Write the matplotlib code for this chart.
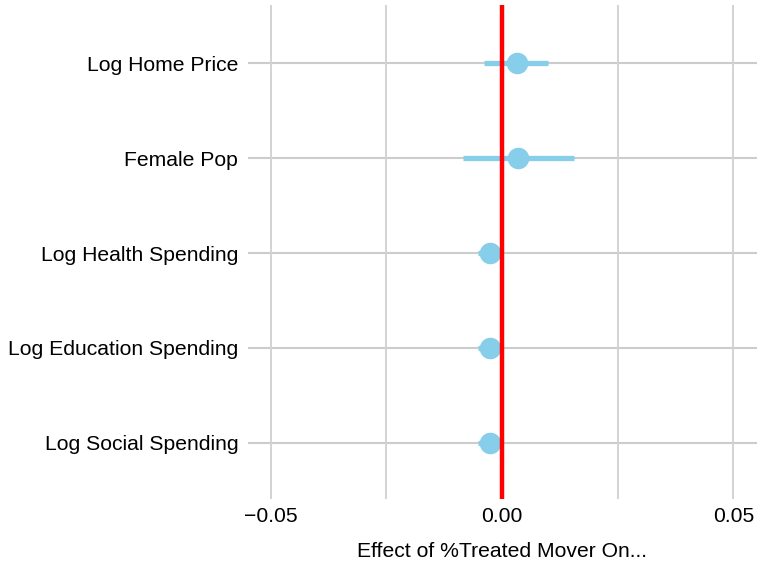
import matplotlib.pyplot as plt
import numpy as np

plt.rcParams['font.family'] = ['Liberation Sans', 'DejaVu Sans']

# coefficient estimates and confidence intervals
outcomes = ['Log Home Price', 'Female Pop', 'Log Health Spending',
            'Log Education Spending', 'Log Social Spending']
estimate = [0.0032, 0.0035, -0.0026, -0.0026, -0.0026]
ci_low = [-0.0038, -0.0084, -0.0053, -0.0053, -0.0053]
ci_high = [0.0100, 0.0156, 0.0001, 0.0001, 0.0001]

ypos = np.arange(len(outcomes))[::-1]

fig = plt.figure(figsize=(7.57, 5.64), dpi=100)
ax = fig.add_axes([0.3276, 0.1152, 0.6724, 0.8758])

# grid
for y in ypos:
    ax.axhline(y, color='#cccccc', linewidth=1.5, zorder=0)
for x in [-0.05, -0.025, 0.025, 0.05]:
    ax.axvline(x, color='#d3d3d3', linewidth=1.4, zorder=0)

ax.hlines(ypos, ci_low, ci_high, color='skyblue', linewidth=3.8, zorder=2)
ax.plot(estimate, ypos, 'o', color='skyblue', markersize=14.5, zorder=3)
ax.axvline(0, color='red', linewidth=3.2, zorder=4)

ax.set_xlim(-0.0549, 0.0551)
ax.set_ylim(-0.59, 4.61)
ax.set_xticks([-0.05, 0.0, 0.05])
ax.set_xticklabels(['\u22120.05', '0.00', '0.05'])
ax.set_yticks(ypos)
ax.set_yticklabels(outcomes)
ax.tick_params(axis='both', length=0, labelsize=15.2, colors='black')
ax.tick_params(axis='x', pad=6)
ax.tick_params(axis='y', pad=7)
for s in ax.spines.values():
    s.set_visible(False)
ax.set_xlabel('Effect of %Treated Mover On...', fontsize=15.2, labelpad=11)

plt.savefig('out.png', dpi=100)
